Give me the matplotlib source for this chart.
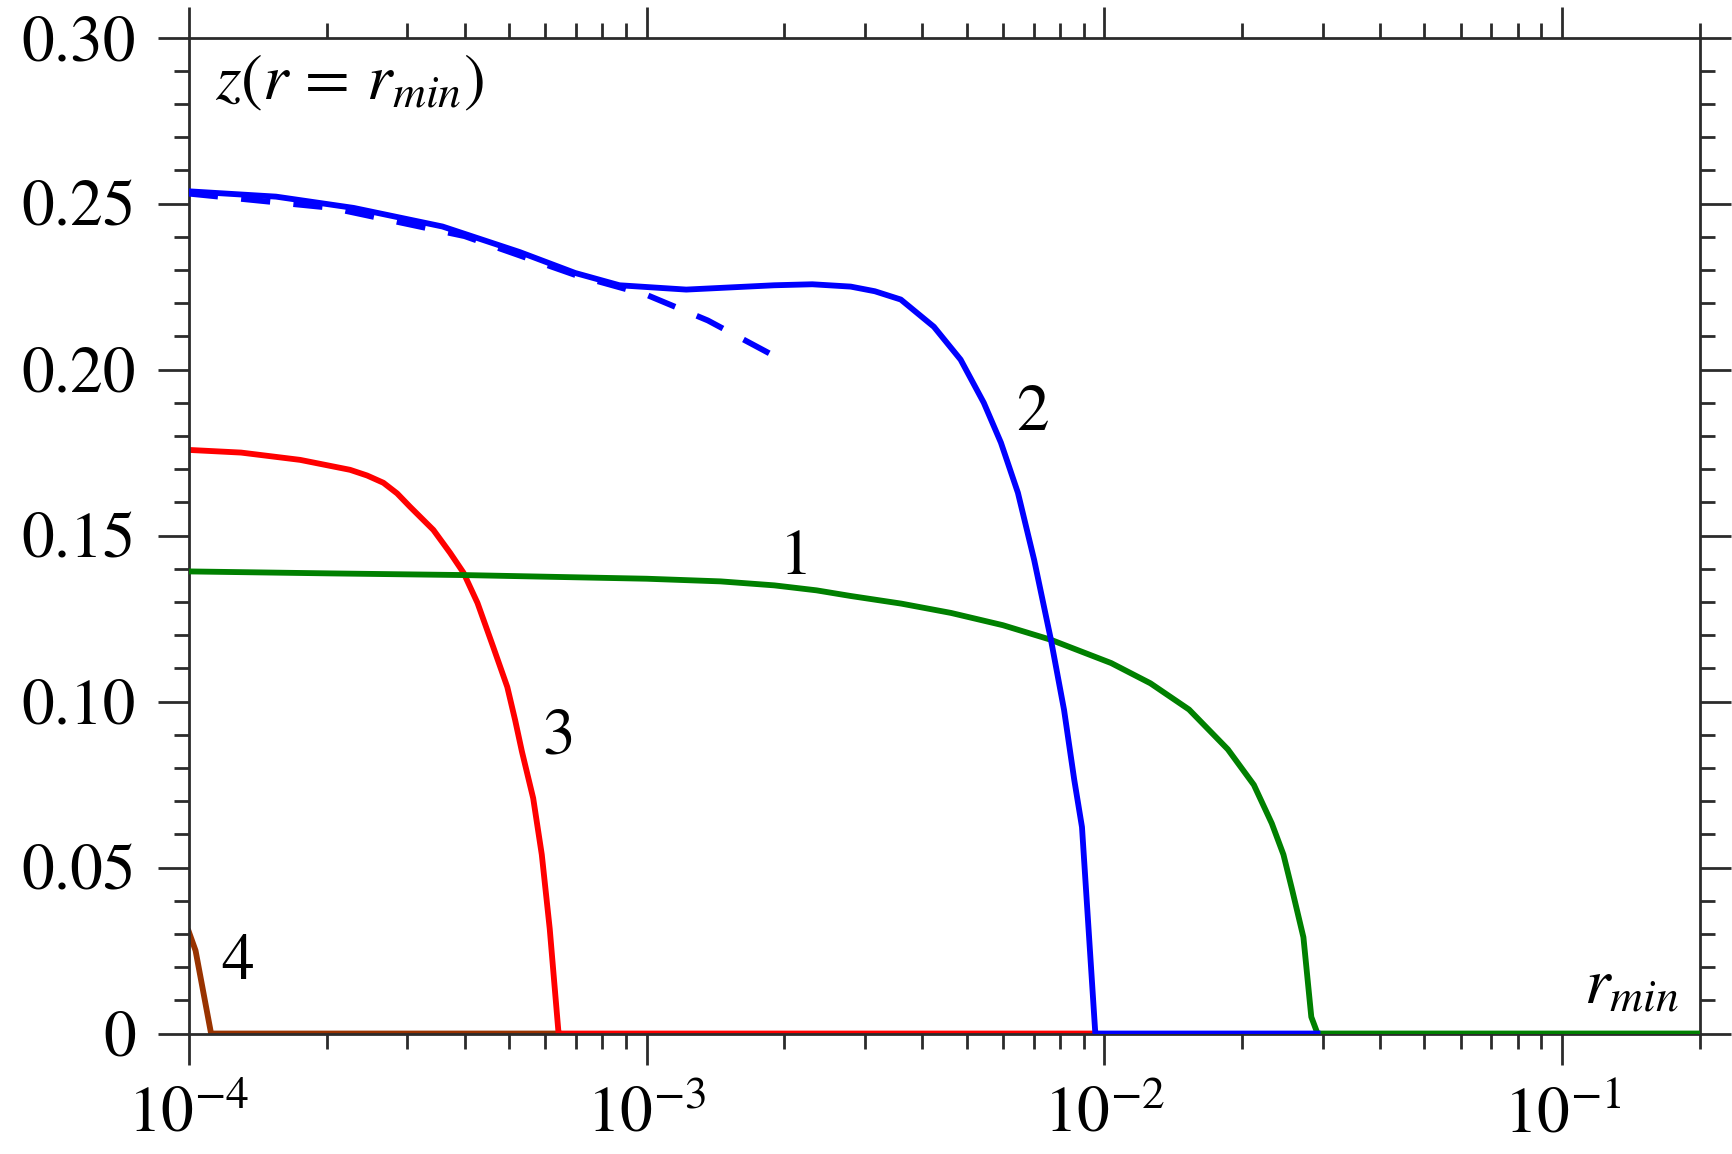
import matplotlib.pyplot as plt
import numpy as np
from matplotlib.ticker import FixedLocator, FuncFormatter, LogLocator, NullFormatter

plt.rcParams.update({
    'font.family': 'STIXGeneral',
    'mathtext.fontset': 'stix',
})

# curve 1 (green)
r1 = [1e-4, 2.05e-4, 4.0e-4, 1e-3, 1.45e-3, 1.9e-3, 2.35e-3, 2.79e-3, 3.6e-3,
      4.62e-3, 6.0e-3, 7.64e-3, 1.034e-2, 1.26e-2, 1.53e-2, 1.86e-2, 2.12e-2,
      2.32e-2, 2.46e-2, 2.57e-2, 2.72e-2, 2.83e-2, 2.92e-2, 0.2]
z1 = [0.1392, 0.1386, 0.1381, 0.1370, 0.1362, 0.1350, 0.1335, 0.1318, 0.1295,
      0.1267, 0.1230, 0.1186, 0.1116, 0.1055, 0.0976, 0.0856, 0.0749,
      0.0633, 0.0539, 0.0433, 0.0290, 0.0050, 0.0, 0.0]

# curve 2 (blue, solid)
r2 = [1e-4, 1.55e-4, 2.29e-4, 3.58e-4, 5.28e-4, 6.98e-4, 8.72e-4, 1.22e-3,
      1.9e-3, 2.3e-3, 2.79e-3, 3.15e-3, 3.59e-3, 4.24e-3, 4.85e-3, 5.45e-3,
      5.94e-3, 6.47e-3, 7.02e-3, 7.64e-3, 8.16e-3, 8.59e-3, 8.93e-3, 9.55e-3,
      2.92e-2]
z2 = [0.2537, 0.2521, 0.2487, 0.2431, 0.2354, 0.2291, 0.2254, 0.2241,
      0.2254, 0.2257, 0.2250, 0.2236, 0.2211, 0.2129, 0.2030, 0.1900,
      0.1780, 0.1629, 0.1427, 0.1186, 0.0975, 0.0764, 0.0622, 0.0, 0.0]

# curve 2 approximation (blue, dashed)
r2a = [1e-4, 2.05e-4, 4.0e-4, 6.98e-4, 1e-3, 1.36e-3, 1.9e-3]
z2a = [0.2530, 0.2487, 0.2402, 0.2285, 0.2225, 0.2148, 0.2041]

# curve 3 (red)
r3 = [1e-4, 1.3e-4, 1.75e-4, 2.25e-4, 2.45e-4, 2.66e-4, 2.85e-4, 3.04e-4,
      3.42e-4, 3.72e-4, 3.98e-4, 4.27e-4, 4.62e-4, 4.96e-4, 5.16e-4, 5.34e-4,
      5.65e-4, 5.90e-4, 6.14e-4, 6.42e-4, 9.55e-3]
z3 = [0.1758, 0.1750, 0.1728, 0.1698, 0.1681, 0.1659, 0.1627, 0.1587,
      0.1517, 0.1448, 0.1388, 0.1297, 0.1165, 0.1044, 0.0944, 0.0849,
      0.0709, 0.0539, 0.0316, 0.0, 0.0]

# curve 4 (brown)
r4 = [1e-4, 1.034e-4, 1.118e-4, 6.42e-4]
z4 = [0.0306, 0.025, 0.0, 0.0]

curve_labels = ['1', '2', '3', '4']
label_r = [2.12e-3, 6.95e-3, 6.42e-4, 1.28e-4]
label_z = [0.1432, 0.1865, 0.0889, 0.021]

y_major = [0, 0.05, 0.10, 0.15, 0.20, 0.25, 0.30]

fig = plt.figure(figsize=(17.33, 11.54), dpi=100)
ax = fig.add_axes([0.109, 0.1044, 0.872, 0.8630])

lw = 4.2
ax.plot(r4, z4, color='#993300', lw=lw, zorder=2)
ax.plot(r3, z3, color='#ff0000', lw=lw, zorder=2)
ax.plot(r1, z1, color='#008000', lw=lw, zorder=3)
ax.plot(r2a, z2a, color='#0000ff', lw=lw, dashes=(5, 4), zorder=3)
ax.plot(r2, z2, color='#0000ff', lw=lw, zorder=4)

for s, x, y in zip(curve_labels, label_r, label_z):
    ax.text(x, y, s, fontsize=47, ha='center', va='center')

ax.text(0.0175, 0.954, r'$z(r\,=\,r_{min})$', transform=ax.transAxes,
        fontsize=47, ha='left', va='center')
ax.text(0.986, 0.045, r'$r_{min}$', transform=ax.transAxes,
        fontsize=47, ha='right', va='center')

ax.set_xscale('log')
ax.set_xlim(1e-4, 0.2)
ax.set_ylim(0, 0.30)
ax.xaxis.set_major_locator(LogLocator(base=10, numticks=10))
ax.xaxis.set_minor_locator(LogLocator(base=10, subs=np.arange(2, 10), numticks=20))
ax.xaxis.set_minor_formatter(NullFormatter())
ax.yaxis.set_major_locator(FixedLocator(y_major))
ax.yaxis.set_minor_locator(FixedLocator(np.arange(0, 0.301, 0.01)))
ax.yaxis.set_major_formatter(FuncFormatter(lambda v, p: '0' if abs(v) < 1e-9 else f'{v:.2f}'))

edge = '#2b2b2b'
for sp in ax.spines.values():
    sp.set_linewidth(2.0)
    sp.set_color(edge)
ax.tick_params(which='both', direction='out', top=True, right=True,
               color=edge, width=2.0, labelsize=47, labelcolor='black')
ax.tick_params(which='major', length=22, pad=16)
ax.tick_params(which='minor', length=11)

fig.savefig('out.png', dpi=100)
